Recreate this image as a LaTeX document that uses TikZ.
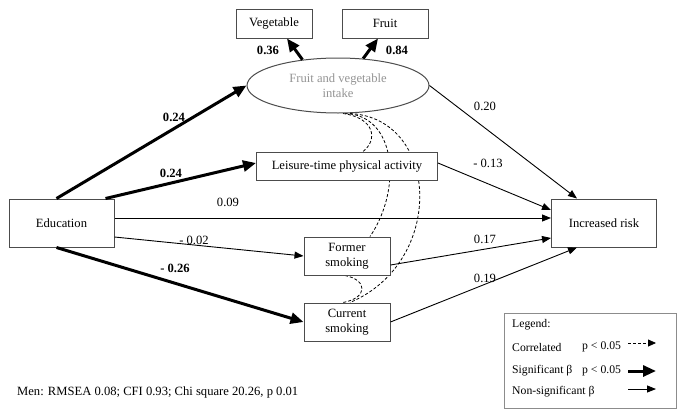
\documentclass[tikz,border=0pt]{standalone}
\usepackage{fontspec}
\setmainfont{Liberation Serif}
\usetikzlibrary{arrows.meta,shapes.geometric,calc}
\pgfdeclarelayer{bg}
\pgfsetlayers{bg,main}
\begin{document}
\begin{tikzpicture}[x=1pt,y=-1pt,
  box/.style={draw=black!70,line width=1pt,fill=white,inner sep=0pt,align=center,
    font=\fontsize{12.6}{15}\selectfont},
  lbl/.style={inner sep=0pt,font=\fontsize{12.6}{15}\selectfont},
  blbl/.style={inner sep=0pt,font=\fontsize{12.6}{15}\selectfont\bfseries},
  leg/.style={inner sep=0pt,anchor=west,font=\fontsize{11.7}{14}\selectfont},
  thin/.style={line width=0.9pt,-{Triangle[length=9pt,width=7pt]}},
  thick/.style={line width=3pt,-{Triangle[length=13pt,width=11pt]}},
  corr/.style={line width=0.8pt,dash pattern=on 3pt off 2pt},
]
\useasboundingbox (0,0) rectangle (685,418);

% nodes
\node[box,minimum width=76pt,minimum height=29pt] (veg) at (274,23.5) {Vegetable};
\node[box,minimum width=86pt,minimum height=29pt] (fruit) at (385,23.5) {Fruit};
\node[box,ellipse,minimum width=182pt,minimum height=55pt,text=black!42] (fv) at (338,85.5) {Fruit and vegetable\\intake};
\node[box,minimum width=181pt,minimum height=28pt] (lei) at (347,166) {Leisure-time physical activity};
\node[box,minimum width=105pt,minimum height=48pt] (edu) at (61.5,223) {Education};
\node[box,minimum width=105pt,minimum height=48pt] (risk) at (604,223) {Increased risk};
\node[box,minimum width=86pt,minimum height=38pt] (former) at (347,256) {Former\\smoking};
\node[box,minimum width=86pt,minimum height=38pt] (cur) at (347,322) {Current\\smoking};

% correlations (behind boxes)
\begin{pgfonlayer}{bg}
\draw[corr] ([xshift=5pt]fv.south) .. controls (375,118) and (378,140) .. ([xshift=16pt]lei.north);
\draw[corr] ([xshift=7pt]fv.south) .. controls (397,115) and (402,190) .. ([xshift=23pt]former.north);
\draw[corr] ([xshift=12pt]fv.south) .. controls (440,118) and (446,262) .. ([xshift=3pt]cur.north);
\draw[corr] ([xshift=-2pt]former.south) .. controls (368,280) and (368,298) .. ([xshift=-4pt]cur.north);
\end{pgfonlayer}

% paths
\draw[thick] ([xshift=-5pt]edu.north) -- (fv.west);
\draw[thick] ([xshift=-9pt]edu.north east) -- ([yshift=3pt]lei.west);
\draw[thin] ([yshift=5pt]edu.east) -- ([yshift=5pt]risk.west);
\draw[thin] ([yshift=-14pt]edu.east) -- (former.west);
\draw[thick] ([xshift=-5pt]edu.south) -- (cur.west);
\draw[thick] (fv.144) -- ([xshift=13pt]veg.south);
\draw[thick] (fv.47) -- ([xshift=-7pt]fruit.south);
\draw[thin] (fv.east) -- ([xshift=-27pt]risk.north);
\draw[thin] ([yshift=3pt]lei.east) -- ([yshift=13pt]risk.west);
\draw[thin] ([yshift=-9pt]former.east) -- ([yshift=-15pt]risk.west);
\draw[thin] (cur.east) -- ([xshift=-27pt]risk.south);

% labels
\node[blbl] (l1) at (174,117) {0.24};
\node[blbl] (l2) at (171,173) {0.24};
\node[lbl] (l3) at (228,202) {0.09};
\node[lbl] (l4) at (194,240) {- 0.02};
\node[blbl] (l5) at (175,268) {- 0.26};
\node[blbl] (l6) at (268,50) {0.36};
\node[blbl] (l7) at (397,50) {0.84};
\node[lbl] (l8) at (485,106) {0.20};
\node[lbl] (l9) at (488,163) {- 0.13};
\node[lbl] (l10) at (485,239) {0.17};
\node[lbl] (l11) at (485,278) {0.19};

% legend
\node[draw=black!45,line width=0.8pt,minimum width=172pt,minimum height=95pt,inner sep=0pt] (legend) at (590,360.5) {};
\node[leg] (lg0) at (512,325) {Legend:};
\node[leg] (lg1) at (512,347) {Correlated};
\node[leg] (lg1p) at (582,347) {p < 0.05};
\node[leg] (lg2) at (512,371) {Significant β};
\node[leg] (lg2p) at (582,371) {p < 0.05};
\node[leg] (lg3) at (512,392) {Non-significant β};
\coordinate (a1s) at (628,343); \coordinate (a1e) at (656,343);
\coordinate (a2s) at (628,371); \coordinate (a2e) at (656,371);
\coordinate (a3s) at (628,389); \coordinate (a3e) at (656,389);
\draw[corr,-{Triangle[length=8pt,width=7pt]}] (a1s) -- (a1e);
\draw[thick] (a2s) -- (a2e);
\draw[thin] (a3s) -- (a3e);

\node[inner sep=0pt,anchor=west,font=\fontsize{12.6}{15}\selectfont] (fit) at (17,392) {Men: RMSEA 0.08; CFI 0.93; Chi square 20.26, p 0.01};
\end{tikzpicture}
\end{document}
